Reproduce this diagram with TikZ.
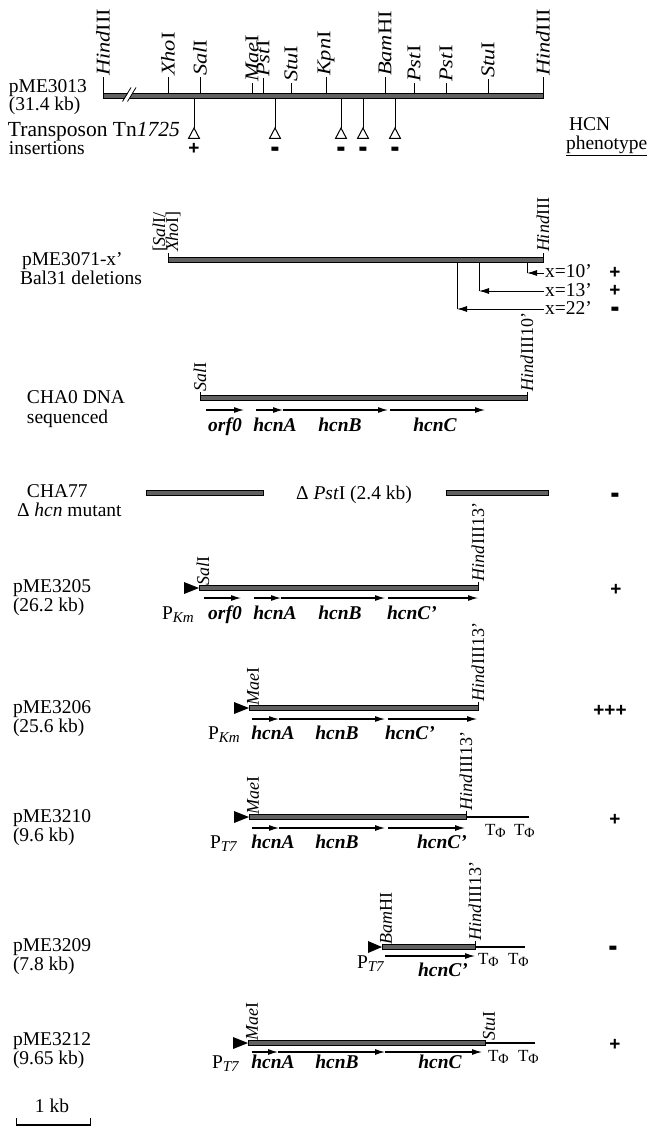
\documentclass[tikz,border=0pt]{standalone}
\usepackage{fontspec}
\usepackage{graphicx}
\setmainfont{Liberation Serif}
\newfontfamily\signfont{Liberation Sans}
\usetikzlibrary{arrows.meta}
\newcommand{\fs}{\fontsize{19.5}{18}\selectfont}
\newcommand{\pkm}{P\raisebox{-3pt}{\fontsize{15}{15}\selectfont\textit{Km}}}
\newcommand{\pseven}{P\raisebox{-3pt}{\fontsize{15}{15}\selectfont\textit{T7}}}
\newcommand{\tphi}{{\fontsize{17}{17}\selectfont T\raisebox{-2.5pt}{\fontsize{14}{14}\selectfont Φ}}}
\newcommand{\plus}{{\signfont\bfseries\fontsize{19}{19}\selectfont +}}
\newcommand{\mns}{{\signfont\bfseries\fontsize{14}{14}\selectfont\raisebox{-11.5pt}[0pt][0pt]{\scalebox{1}[3]{–}}}}
\newcommand{\hind}{\textit{Hind}III}
\newcommand{\lng}[1]{\scalebox{1.15}[1]{#1}}
\tikzset{
  every node/.style={inner sep=0pt, outer sep=0pt, font=\fs},
  lbl/.style={anchor=base west},
  rlt/.style={rotate=90, anchor=west},
  rl/.style={rotate=90, anchor=west, font=\fontsize{18}{18}\selectfont},
  gl/.style={anchor=base, font=\fs\bfseries\itshape},
  sg/.style={anchor=center},
  dna/.style={draw=black, line width=0.8pt, fill=black!62},
  tick/.style={line width=0.9pt},
  thin/.style={line width=1.2pt},
  gene/.style={line width=1.1pt, -{Latex[length=10pt,width=6pt]}},
  del/.style={line width=0.9pt, -{Latex[length=10pt,width=6pt]}},
}
\begin{document}
\begin{tikzpicture}[x=1pt,y=-1pt]
\useasboundingbox (0,0) rectangle (651,1131);

% ---------------- pME3013 ----------------
\draw[dna] (103,93.6) rectangle (543,98.4);
\fill[white] (123,101.5) -- (131.5,87.5) -- (136,87.5) -- (127.5,101.5) -- cycle;
\draw[line width=0.8pt] (122.5,101.5) -- (131,87.5);
\draw[line width=0.8pt] (127.5,101.5) -- (136,87.5);
\foreach \x/\yt/\t [count=\i] in {103/77/\hind, 168/77/\textit{Xho}I, 200/77/\textit{Sal}I,
   252/83/\textit{Mae}I, 263/78/\textit{Pst}I, 291/83/\textit{Stu}I, 326/77/\textit{Kpn}I,
   385/77/\textit{Bam}HI, 414/83/\textit{Pst}I, 446/83/\textit{Pst}I, 488/79/\textit{Stu}I, 543/77/\hind}{
  \draw[tick] (\x,93.6) -- (\x,\yt);
  \node[rlt] (re\i) at (\x,\yt-1) {\lng{\t}};
}
\foreach \x/\s [count=\i] in {194/\plus, 275/\mns, 341/\mns, 363/\mns, 395/\mns}{
  \draw[tick] (\x,98.4) -- (\x,128);
  \draw[line width=1pt] (\x,128) -- (\x-5.5,138.5) -- (\x+5.5,138.5) -- cycle;
  \node[sg] (ins\i) at (\x,149) {\s};
}
\node[lbl] (p3013) at (9,93) {pME3013};
\node[lbl] (p3013s) at (9,111) {(31.4 kb)};
\node[lbl, font=\fontsize{21.5}{18}\selectfont] (tn) at (8,137) {Transposon Tn\textit{1725}};
\node[lbl] (insl) at (9,155) {insertions};
\node[lbl] (hcn) at (569,131) {HCN};
\node[lbl] (phen) at (566,150) {\underline{phenotype}};

% ---------------- pME3071-x' ----------------
\draw[dna] (168,257.6) rectangle (543,262.4);
\draw[tick] (168,257.6) -- (168,253);
\draw[tick] (543,257.6) -- (543,253);
\node[rl] (sx1) at (160,252) {[\textit{Sal}I/};
\node[rl] (sx2) at (173,252) {\textit{Xho}I]};
\node[rl] (h2) at (543,252) {\hind};
\node[lbl] (p3071) at (22,266) {pME3071-x'};
\node[lbl] (bal) at (20,285) {Bal31 deletions};
\foreach \xv/\yb/\t/\s [count=\i] in {527/278/x=10'/\plus, 479/296/x=13'/\plus, 457/314/x=22'/\mns}{
  \node[lbl] (dl\i) at (545,\yb) {\t};
  \coordinate (dc\i) at (\xv,\yb-5);
  \draw[tick] (\xv,262.4) -- (dc\i);
  \draw[del] (544,\yb-5) -- (dc\i);
  \node[sg] (ds\i) at (615,\yb-5) {\s};
}

% ---------------- CHA0 ----------------
\draw[dna] (200,395.6) rectangle (527,400.4);
\draw[tick] (200,395.6) -- (200,392);
\draw[tick] (527,395.6) -- (527,392);
\node[rl] (c0l) at (200,391) {\textit{Sal}I};
\node[rl] (c0r) at (527,391) {\hind10'};
\draw[gene] (206,410) -- (244,410);
\draw[gene] (256,410) -- (283,410);
\draw[gene] (283,410) -- (388,410);
\draw[gene] (390,410) -- (485,410);
\node[gl] (g01) at (225,431) {orf0};
\node[gl] (g02) at (275,431) {hcnA};
\node[gl] (g03) at (340,431) {hcnB};
\node[gl] (g04) at (435,431) {hcnC};
\node[lbl] (cha0) at (27,403) {CHA0 DNA};
\node[lbl] (seq) at (27,423) {sequenced};

% ---------------- CHA77 ----------------
\draw[dna] (146,490.6) rectangle (263,495.4);
\draw[dna] (446,490.6) rectangle (548,495.4);
\node[anchor=base] (dpst) at (354,499) {Δ \textit{Pst}I (2.4 kb)};
\node[sg] (s77) at (615,495) {\mns};
\node[lbl] (cha77) at (27,497) {CHA77};
\node[lbl] (dhcn) at (17,516) {Δ \textit{hcn} mutant};

% ---------------- pME3205 ----------------
\draw[dna] (199,585.6) rectangle (478,590.4);
\fill (184,582) -- (199,588) -- (184,594) -- cycle;
\draw[tick] (478,585.6) -- (478,582);
\node[rl] (a1) at (203,585) {\textit{Sal}I};
\node[rl] (a2) at (478,581) {\hind13'};
\draw[gene] (204,598) -- (241,598);
\draw[gene] (254,598) -- (281,598);
\draw[gene] (281,598) -- (385,598);
\draw[gene] (388,598) -- (478,598);
\node[lbl] (a3) at (162,619) {\pkm};
\node[gl] (a4) at (225,619) {orf0};
\node[gl] (a5) at (275,619) {hcnA};
\node[gl] (a6) at (340,619) {hcnB};
\node[gl] (a7) at (412,619) {hcnC'};
\node[lbl] (p3205) at (13,592) {pME3205};
\node[lbl] (p3205s) at (13,611) {(26.2 kb)};
\node[sg] (s3205) at (616,590) {\plus};

% ---------------- pME3206 ----------------
\draw[dna] (249,705.6) rectangle (478,710.4);
\fill (234,702) -- (249,708) -- (234,714) -- cycle;
\draw[tick] (478,705.6) -- (478,702);
\node[rl] (b1) at (253,705) {\textit{Mae}I};
\node[rl] (b2) at (478,701) {\hind13'};
\draw[gene] (252,719) -- (279,719);
\draw[gene] (279,719) -- (385,719);
\draw[gene] (388,719) -- (477,719);
\node[lbl] (b3) at (208,739) {\pkm};
\node[gl] (b4) at (273,739) {hcnA};
\node[gl] (b5) at (337,739) {hcnB};
\node[gl] (b6) at (410,739) {hcnC'};
\node[lbl] (p3206) at (13,713) {pME3206};
\node[lbl] (p3206s) at (13,732) {(25.6 kb)};
\node[sg] (s3206) at (610,711) {\plus\plus\plus};

% ---------------- pME3210 ----------------
\draw[dna] (249,814.6) rectangle (466,819.4);
\draw[thin] (466,817) -- (529,817);
\fill (234,811) -- (249,817) -- (234,823) -- cycle;
\draw[tick] (466,814.6) -- (466,811);
\node[rl] (c1) at (253,814) {\textit{Mae}I};
\node[rl] (c2) at (466,810) {\hind13'};
\draw[gene] (252,828) -- (279,828);
\draw[gene] (279,828) -- (385,828);
\draw[gene] (388,828) -- (465,828);
\node[lbl] (c3) at (485,835) {\tphi};
\node[lbl] (c4) at (514,835) {\tphi};
\node[lbl] (c5) at (210,848) {\pseven};
\node[gl] (c6) at (273,848) {hcnA};
\node[gl] (c7) at (337,848) {hcnB};
\node[gl] (c8) at (442,848) {hcnC'};
\node[lbl] (p3210) at (13,822) {pME3210};
\node[lbl] (p3210s) at (13,841) {(9.6 kb)};
\node[sg] (s3210) at (615,820) {\plus};

% ---------------- pME3209 ----------------
\draw[dna] (382,944.6) rectangle (475,949.4);
\draw[thin] (475,947) -- (525,947);
\fill (368,941) -- (382,947) -- (368,953) -- cycle;
\draw[tick] (475,944.6) -- (475,941);
\node[rl] (d1) at (386,944) {\textit{Bam}HI};
\node[rl] (d2) at (475,940) {\hind13'};
\draw[gene] (385,956) -- (475,956);
\node[lbl] (d3) at (478,964) {\tphi};
\node[lbl] (d4) at (508,964) {\tphi};
\node[lbl] (d5) at (357,968) {\pseven};
\node[gl] (d6) at (443,976) {hcnC'};
\node[lbl] (p3209) at (13,951) {pME3209};
\node[lbl] (p3209s) at (13,970) {(7.8 kb)};
\node[sg] (s3209) at (613,948) {\mns};

% ---------------- pME3212 ----------------
\draw[dna] (248,1040.6) rectangle (485,1045.4);
\draw[thin] (485,1043) -- (535,1043);
\fill (233,1037) -- (248,1043) -- (233,1049) -- cycle;
\node[rl] (e1) at (252,1040) {\textit{Mae}I};
\node[rl] (e2) at (489,1040) {\textit{Stu}I};
\draw[gene] (252,1052) -- (278,1052);
\draw[gene] (278,1052) -- (385,1052);
\draw[gene] (385,1052) -- (482,1052);
\node[lbl] (e3) at (488,1061) {\tphi};
\node[lbl] (e4) at (518,1061) {\tphi};
\node[lbl] (e5) at (212,1068) {\pseven};
\node[gl] (e6) at (273,1068) {hcnA};
\node[gl] (e7) at (337,1068) {hcnB};
\node[gl] (e8) at (440,1068) {hcnC};
\node[lbl] (p3212) at (13,1045) {pME3212};
\node[lbl] (p3212s) at (13,1064) {(9.65 kb)};
\node[sg] (s3212) at (615,1045) {\plus};

% ---------------- scale bar ----------------
\draw[line width=2pt] (16,1124.5) -- (91,1124.5);
\draw[line width=1pt] (16.5,1125.5) -- (16.5,1118);
\draw[line width=1pt] (90.5,1125.5) -- (90.5,1118);
\node[anchor=base] (kb) at (52,1112) {1 kb};
\end{tikzpicture}
\end{document}
